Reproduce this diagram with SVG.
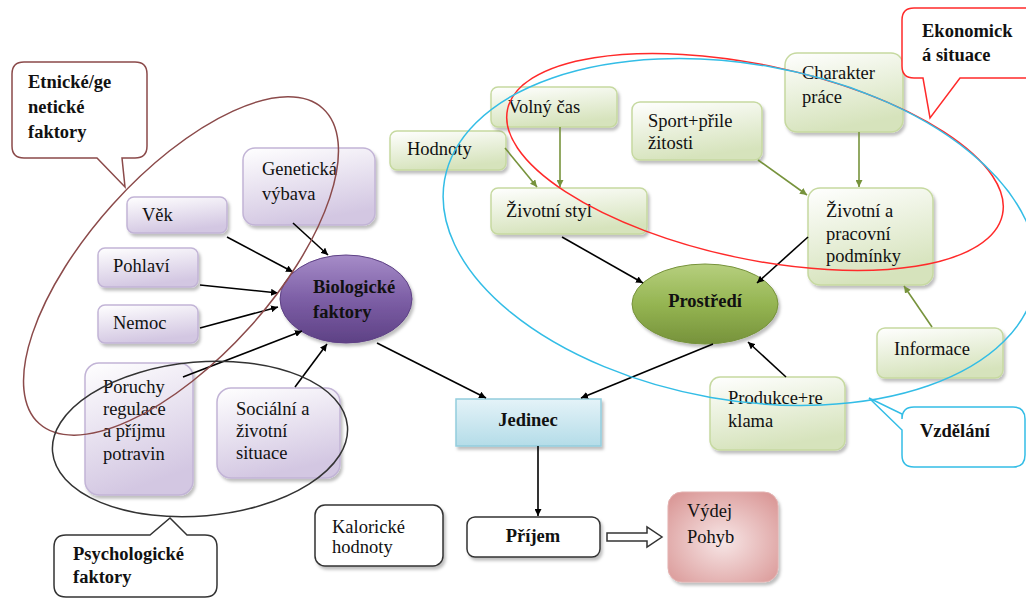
<svg xmlns="http://www.w3.org/2000/svg" width="1026" height="599" viewBox="0 0 1026 599" font-family="'Liberation Serif', 'Times New Roman', serif">
<defs>
<linearGradient id="gPurple" x1="0" y1="0" x2="0.3" y2="1">
<stop offset="0" stop-color="#ffffff"/><stop offset="1" stop-color="#d3c7e2"/>
</linearGradient>
<linearGradient id="gGreen" x1="0" y1="0" x2="0.3" y2="1">
<stop offset="0" stop-color="#ffffff"/><stop offset="1" stop-color="#d6e3bc"/>
</linearGradient>
<linearGradient id="gBlue" x1="0" y1="0" x2="0" y2="1">
<stop offset="0" stop-color="#e4f3f8"/><stop offset="1" stop-color="#b4dce8"/>
</linearGradient>
<radialGradient id="gPink" cx="0.5" cy="0.55" r="0.7">
<stop offset="0" stop-color="#f7e6e6"/><stop offset="1" stop-color="#d99594"/>
</radialGradient>
<linearGradient id="gBio" x1="0" y1="0" x2="0" y2="1">
<stop offset="0" stop-color="#a68cc8"/><stop offset="0.5" stop-color="#7d5fa6"/><stop offset="1" stop-color="#5e4185"/>
</linearGradient>
<linearGradient id="gEnv" x1="0" y1="0" x2="0" y2="1">
<stop offset="0" stop-color="#b6cf7e"/><stop offset="0.5" stop-color="#95b552"/><stop offset="1" stop-color="#76923b"/>
</linearGradient>
<filter id="sh" x="-10%" y="-10%" width="125%" height="130%">
<feDropShadow dx="2" dy="3" stdDeviation="1.5" flood-color="#000" flood-opacity="0.25"/>
</filter>
<marker id="ab" viewBox="0 0 10 10" refX="10" refY="5" markerWidth="7" markerHeight="7" orient="auto" markerUnits="userSpaceOnUse">
<path d="M0,0 L10,5 L0,10 z" fill="#000"/>
</marker>
<marker id="ag" viewBox="0 0 10 10" refX="10" refY="5" markerWidth="7" markerHeight="7" orient="auto" markerUnits="userSpaceOnUse">
<path d="M0,0 L10,5 L0,10 z" fill="#77933c"/>
</marker>
<style>
text{font-family:"Liberation Serif","Times New Roman",serif;font-size:18.5px;fill:#111;}
.b{font-weight:bold;}
.pb{fill:url(#gPurple);stroke:#c2b4d6;stroke-width:1.5;filter:url(#sh);}
.gb{fill:url(#gGreen);stroke:#c6d9a0;stroke-width:1.5;filter:url(#sh);}
.wb{fill:#fff;stroke:#333;stroke-width:1.5;filter:url(#sh);}
.cb{stroke:#000;stroke-width:1.6;fill:none;marker-end:url(#ab);}
.cg{stroke:#77933c;stroke-width:1.6;fill:none;marker-end:url(#ag);}
.ov{fill:none;stroke-width:1.5;}
</style>
</defs>
<rect width="1026" height="599" fill="#fff"/>

<g id="callout-etnicke">
<path d="M24,62 H135 Q147,62 147,74 V146 Q147,158 135,158 H122 L125,187 L97,158 H24 Q12,158 12,146 V74 Q12,62 24,62 Z" fill="#fff" stroke="#8b4a4a" stroke-width="1.5"/>
<text class="b" x="28" y="88">Etnické/ge</text>
<text class="b" x="28" y="113">netické</text>
<text class="b" x="28" y="138">faktory</text>
</g>

<g id="node-genetika"><rect class="pb" x="243" y="148" width="132" height="77" rx="12"/>
<text x="262" y="175">Genetická</text><text x="262" y="200">výbava</text></g>
<g id="node-vek"><rect class="pb" x="127" y="197" width="100" height="36" rx="7"/>
<text x="142" y="221">Věk</text></g>
<g id="node-pohlavi"><rect class="pb" x="98" y="248" width="100" height="39" rx="7"/>
<text x="113" y="272">Pohlaví</text></g>
<g id="node-nemoc"><rect class="pb" x="98" y="305" width="100" height="38" rx="7"/>
<text x="113" y="329">Nemoc</text></g>
<g id="node-poruchy"><rect class="pb" x="85" y="363" width="108" height="132" rx="14"/>
<text x="103" y="393">Poruchy</text><text x="103" y="415">regulace</text><text x="103" y="437">a příjmu</text><text x="103" y="460">potravin</text></g>
<g id="node-socialni"><rect class="pb" x="217" y="388" width="123" height="90" rx="14"/>
<text x="236" y="415">Sociální a</text><text x="236" y="437">životní</text><text x="236" y="459">situace</text></g>
<g id="node-biologicke"><ellipse cx="346" cy="299" rx="66" ry="44" fill="url(#gBio)" stroke="#5e4185" stroke-width="1" filter="url(#sh)"/>
<text class="b" x="313" y="293">Biologické</text><text class="b" x="313" y="318">faktory</text></g>

<g id="callout-psycho">
<path d="M66,535 H150 L170,518 L187,535 H205 Q217,535 217,547 V585 Q217,597 205,597 H66 Q54,597 54,585 V547 Q54,535 66,535 Z" fill="#fff" stroke="#333" stroke-width="1.5"/>
<text class="b" x="73" y="560">Psychologické</text>
<text class="b" x="73" y="583">faktory</text>
</g>

<g id="node-hodnoty"><rect class="gb" x="390" y="131" width="116" height="39" rx="7"/>
<text x="407" y="155">Hodnoty</text></g>
<g id="node-volny"><rect class="gb" x="491" y="87" width="126" height="40" rx="7"/>
<text x="508" y="113">Volný čas</text></g>
<g id="node-styl"><rect class="gb" x="491" y="188" width="156" height="46" rx="7"/>
<text x="506" y="217">Životní styl</text></g>
<g id="node-sport"><rect class="gb" x="632" y="102" width="130" height="58" rx="8"/>
<text x="648" y="127">Sport+přile</text><text x="648" y="149">žitosti</text></g>
<g id="node-charakter"><rect class="gb" x="785" y="53" width="118" height="79" rx="12"/>
<text x="802" y="79">Charakter</text><text x="802" y="103">práce</text></g>
<g id="node-podminky"><rect class="gb" x="808" y="188" width="125" height="97" rx="12"/>
<text x="826" y="217">Životní a</text><text x="826" y="240">pracovní</text><text x="826" y="262">podmínky</text></g>
<g id="node-prostredi"><ellipse cx="705" cy="304" rx="73" ry="40" fill="url(#gEnv)" stroke="#76923b" stroke-width="1" filter="url(#sh)"/>
<text class="b" x="705" y="307" text-anchor="middle">Prostředí</text></g>
<g id="node-informace"><rect class="gb" x="877" y="328" width="126" height="50" rx="8"/>
<text x="894" y="355">Informace</text></g>
<g id="node-produkce"><rect class="gb" x="710" y="377" width="135" height="73" rx="10"/>
<text x="728" y="404">Produkce+re</text><text x="728" y="427">klama</text></g>

<g id="callout-ekonomicka">
<path d="M914,8 H1040 V78 H960 L930,118 L923,78 H914 Q902,78 902,66 V20 Q902,8 914,8 Z" fill="#fff" stroke="#ff2a2a" stroke-width="1.5"/>
<text class="b" x="922" y="37">Ekonomick</text>
<text class="b" x="922" y="61">á situace</text>
</g>
<g id="callout-vzdelani">
<path d="M914,407 H1013 Q1025,407 1025,419 V455 Q1025,467 1013,467 H914 Q902,467 902,455 V430 L869,398 L902,414 V419 Q902,407 914,407 Z" fill="#fff" stroke="#33bde6" stroke-width="1.5"/>
<text class="b" x="920" y="437">Vzdělání</text>
</g>

<g id="node-jedinec"><rect x="456" y="399" width="145" height="47" fill="url(#gBlue)" stroke="#93cddd" stroke-width="1.5" filter="url(#sh)"/>
<text class="b" x="528" y="426" text-anchor="middle">Jedinec</text></g>
<g id="node-kaloricke"><rect class="wb" x="315" y="505" width="128" height="61" rx="10"/>
<text x="332" y="533">Kalorické</text><text x="332" y="553">hodnoty</text></g>
<g id="node-prijem"><rect class="wb" x="467" y="517" width="133" height="40" rx="8"/>
<text class="b" x="533" y="542" text-anchor="middle">Příjem</text></g>
<g id="node-vydej"><rect x="668" y="492" width="110" height="90" rx="14" fill="url(#gPink)" stroke="#e3b1b0" stroke-width="1" filter="url(#sh)"/>
<text x="687" y="517">Výdej</text><text x="687" y="543">Pohyb</text></g>

<g id="connectors">
<line class="cb" x1="293" y1="223" x2="328" y2="255"/>
<line class="cb" x1="227" y1="237" x2="293" y2="272"/>
<line class="cb" x1="200" y1="285" x2="278" y2="293"/>
<line class="cb" x1="200" y1="328" x2="278" y2="307"/>
<line class="cb" x1="183" y1="377" x2="302" y2="331"/>
<line class="cb" x1="295" y1="387" x2="327" y2="344"/>
<line class="cb" x1="377" y1="343" x2="486" y2="398"/>
<line class="cb" x1="713" y1="344" x2="581" y2="398"/>
<line class="cb" x1="562" y1="237" x2="643" y2="283"/>
<line class="cb" x1="808" y1="237" x2="757" y2="283"/>
<line class="cb" x1="786" y1="377" x2="748" y2="342"/>
<line class="cb" x1="538" y1="446" x2="538" y2="516"/>
<line class="cg" x1="505" y1="148" x2="537" y2="187"/>
<line class="cg" x1="560" y1="127" x2="560" y2="187"/>
<line class="cg" x1="758" y1="160" x2="807" y2="195"/>
<line class="cg" x1="859" y1="132" x2="859" y2="187"/>
<line class="cg" x1="932" y1="327" x2="904" y2="286"/>
<polygon points="607,533 647,533 647,527 662,537 647,547 647,541 607,541" fill="#fff" stroke="#333" stroke-width="1.5"/>
</g>

<g id="groups">
<ellipse class="ov" cx="181" cy="266" rx="212" ry="92" transform="rotate(-48 181 266)" stroke="#8b4a4a"/>
<ellipse class="ov" cx="200" cy="439" rx="148" ry="77" transform="rotate(-5 200 439)" stroke="#333"/>
<ellipse class="ov" cx="755" cy="162" rx="253" ry="97" transform="rotate(12 755 162)" stroke="#ff2a2a"/>
<ellipse class="ov" cx="740" cy="232" rx="300" ry="168" transform="rotate(10 740 232)" stroke="#33bde6"/>
</g>
</svg>
